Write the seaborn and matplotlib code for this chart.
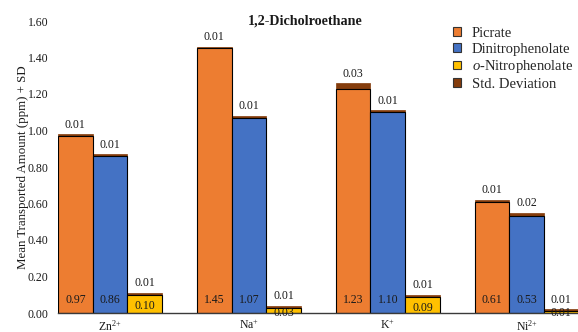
import numpy as np
import pandas as pd
import matplotlib
matplotlib.use("Agg")
import matplotlib.pyplot as plt
from matplotlib.patches import Patch
import seaborn as sns

# ---- data -------------------------------------------------------------
cations = [r"Zn$^{2{+}}$", r"Na$^{+}$", r"K$^{+}$", r"Ni$^{2{+}}$"]
series = ["Picrate", "Dinitrophenolate", r"$\mathit{o}$-Nitrophenolate"]

picrate = [0.97, 1.45, 1.23, 0.61]
picrate_sd = [0.01, 0.01, 0.03, 0.01]
dinitro = [0.86, 1.07, 1.10, 0.53]
dinitro_sd = [0.01, 0.01, 0.01, 0.02]
onitro = [0.10, 0.03, 0.09, 0.01]
onitro_sd = [0.01, 0.01, 0.01, 0.01]

yticks = [0.00, 0.20, 0.40, 0.60, 0.80, 1.00, 1.20, 1.40, 1.60]

colors = ["#ED7D31", "#4472C4", "#FFC000"]
sd_color = "#843C0C"
sd_label = "Std. Deviation"
title = "1,2-Dicholroethane"
ylabel = "Mean Transported Amount (ppm) + SD"

# ---- long-form table --------------------------------------------------
values = [picrate, dinitro, onitro]
sds = [picrate_sd, dinitro_sd, onitro_sd]
rows = []
for s, vals, errs in zip(series, values, sds):
    for c, v, e in zip(cations, vals, errs):
        rows.append({"cation": c, "series": s, "value": v, "sd": e, "total": v + e})
df = pd.DataFrame(rows)

# ---- style ------------------------------------------------------------
sns.set_style("white")
plt.rcParams["font.family"] = ["Liberation Serif", "DejaVu Serif"]
plt.rcParams["mathtext.fontset"] = "custom"
plt.rcParams["mathtext.rm"] = "Liberation Serif"
plt.rcParams["mathtext.it"] = "Liberation Serif:italic"
plt.rcParams["mathtext.bf"] = "Liberation Serif:bold"

fig = plt.figure(figsize=(5.78, 3.32), dpi=100)
ax = fig.add_axes([58 / 578, 1 - 313 / 332, 1 - 58 / 578, (313 - 21) / 332])

# standard-deviation caps: bars reaching value + SD, drawn underneath
sns.barplot(data=df, x="cation", y="total", hue="series", order=cations,
            hue_order=series, palette={s: sd_color for s in series},
            saturation=1, width=0.75, errorbar=None, edgecolor=sd_color,
            linewidth=0.5, legend=False, ax=ax)
# mean values on top
sns.barplot(data=df, x="cation", y="value", hue="series", order=cations,
            hue_order=series, palette=dict(zip(series, colors)),
            saturation=1, width=0.75, errorbar=None, edgecolor="black",
            linewidth=0.8, legend=False, ax=ax)

cap_containers = ax.containers[:3]
val_containers = ax.containers[3:6]

# SD value above each bar
for cont, errs in zip(cap_containers, sds):
    ax.bar_label(cont, labels=[f"{e:.2f}" for e in errs], padding=2.5,
                 fontsize=8.5, color="#1a1a1a")

# mean value near the base, inside the bar
for cont in val_containers:
    for p in cont.patches:
        h = p.get_height()
        y = float(np.clip(h - 0.06, 0.0, 0.07))
        ax.text(p.get_x() + p.get_width() / 2, y, f"{h:.2f}", ha="center",
                va="center", fontsize=8.5, color="#1a1a1a")

ax.set_xlim(-0.375, 3.37)
ax.set_ylim(0, 1.6)
ax.set_yticks(yticks)
ax.set_yticklabels([f"{t:.2f}" for t in yticks])
ax.set_xlabel("")
ax.set_ylabel(ylabel, fontsize=9.3, color="#1a1a1a")
ax.yaxis.set_label_coords(-0.056, 0.5)
ax.tick_params(axis="both", length=0, labelsize=8.5, colors="#1a1a1a")
ax.tick_params(axis="y", pad=7)
ax.tick_params(axis="x", pad=4)
for side in ["left", "top", "right"]:
    ax.spines[side].set_visible(False)
ax.spines["bottom"].set_color("#3a3a3a")
ax.spines["bottom"].set_linewidth(1.0)

fig.text(305 / 578, 1 - 21 / 332, title, ha="center", va="center",
         fontsize=10.2, fontweight="bold", color="#1a1a1a")

handles = [Patch(facecolor=c, edgecolor="#333333", linewidth=0.8) for c in colors]
handles.append(Patch(facecolor=sd_color, edgecolor="#333333", linewidth=0.8))
fig.legend(handles, series + [sd_label], loc="upper left",
           bbox_to_anchor=(453 / 578, 1 - 27 / 332), frameon=False,
           fontsize=10.5, handlelength=0.55, handleheight=0.55,
           handletextpad=0.75, labelspacing=0.18, borderpad=0,
           borderaxespad=0)

fig.savefig("out.png", dpi=100)
